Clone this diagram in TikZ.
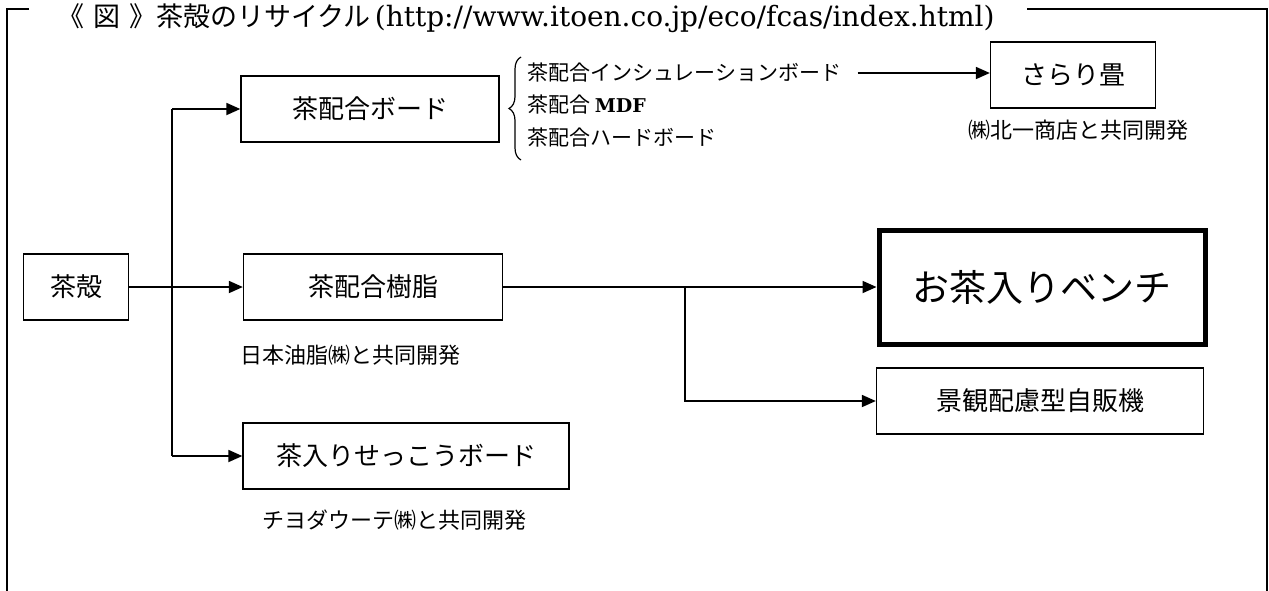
\documentclass[tikz,border=0pt]{standalone}
\usepackage{fontspec}
\setmainfont{DejaVu Serif}
\newfontfamily\jp{Noto Sans CJK JP}
\newfontfamily\myserif{DejaVu Serif}
\usetikzlibrary{arrows.meta,decorations.pathreplacing}
\begin{document}
\begin{tikzpicture}[x=1pt,y=-1pt,
  frame/.style={line width=2pt},
  box/.style={draw, line width=1.3pt, minimum height=66pt, inner sep=0pt, font=\jp\fontsize{26}{26}\selectfont},
  lbl/.style={inner sep=0pt, font=\jp\fontsize{22}{22}\selectfont},
  item/.style={inner sep=0pt, anchor=west, font=\jp\fontsize{21}{21}\selectfont},
  conn/.style={line width=1.8pt},
  arr/.style={line width=1.8pt, -{Triangle[length=14pt,width=12pt]}}]
\useasboundingbox (0,0) rectangle (1269,590);
% frame
\draw[frame] (29,9) -- (7,9) -- (7,594);
\draw[frame] (1027,9) -- (1267,9) -- (1267,594);
\node[anchor=west, inner sep=0pt] (title) at (57,18)
  {{\jp\fontsize{27}{27}\selectfont 《\hspace{9pt}図\hspace{9pt}》茶殻のリサイクル}\hspace{4pt}{\myserif\fontsize{28}{28}\selectfont (http://www.itoen.co.jp/eco/fcas/index.html)}};
% boxes
\node[box, minimum width=105pt] (chagara) at (76,287) {茶殻};
\node[box, minimum width=258pt] (board) at (370,109) {茶配合ボード};
\node[box, minimum width=259pt] (resin) at (373,287) {茶配合樹脂};
\node[box, minimum width=326pt] (gypsum) at (406,456) {茶入りせっこうボード};
\node[draw, line width=5pt, minimum width=326pt, minimum height=114pt, inner sep=0pt, font=\jp\fontsize{37}{37}\selectfont] (bench) at (1042,287) {お茶入りベンチ};
\node[box, minimum width=327pt] (vend) at (1040,401) {景観配慮型自販機};
\node[box, minimum width=165pt] (tatami) at (1073,75) {さらり畳};
% labels
\node[lbl, anchor=west] (lresin) at (240,355) {日本油脂㈱と共同開発};
\node[lbl] (lgyp) at (394,520) {チヨダウーテ㈱と共同開発};
\node[lbl] (ltat) at (1078,130) {㈱北一商店と共同開発};
% list
\node[item] (ins) at (527,73) {茶配合インシュレーションボード\hspace*{16pt}};
\node[item] (mdf) at (527,105) {茶配合 {\myserif\bfseries\fontsize{19}{19}\selectfont MDF}};
\node[item] (hard) at (527,138) {茶配合ハードボード};
\draw[line width=1.2pt, decorate, decoration={brace, amplitude=12pt}] (521,160) -- (521,57);
% connectors
\coordinate (tTop) at (172,109);
\coordinate (tBot) at (172,456);
\coordinate (br) at (685,287);
\draw[conn] (tTop) -- (tBot);
\draw[arr] (tTop) -- (board.west);
\draw[arr] (tBot) -- (gypsum.west);
\draw[arr] (chagara.east) -- (resin.west);
\draw[arr] (resin.east) -- (bench.west);
\draw[arr] (br) |- (vend.west);
\draw[arr] (ins.east) -- (ins.east -| tatami.west);
\end{tikzpicture}
\end{document}
